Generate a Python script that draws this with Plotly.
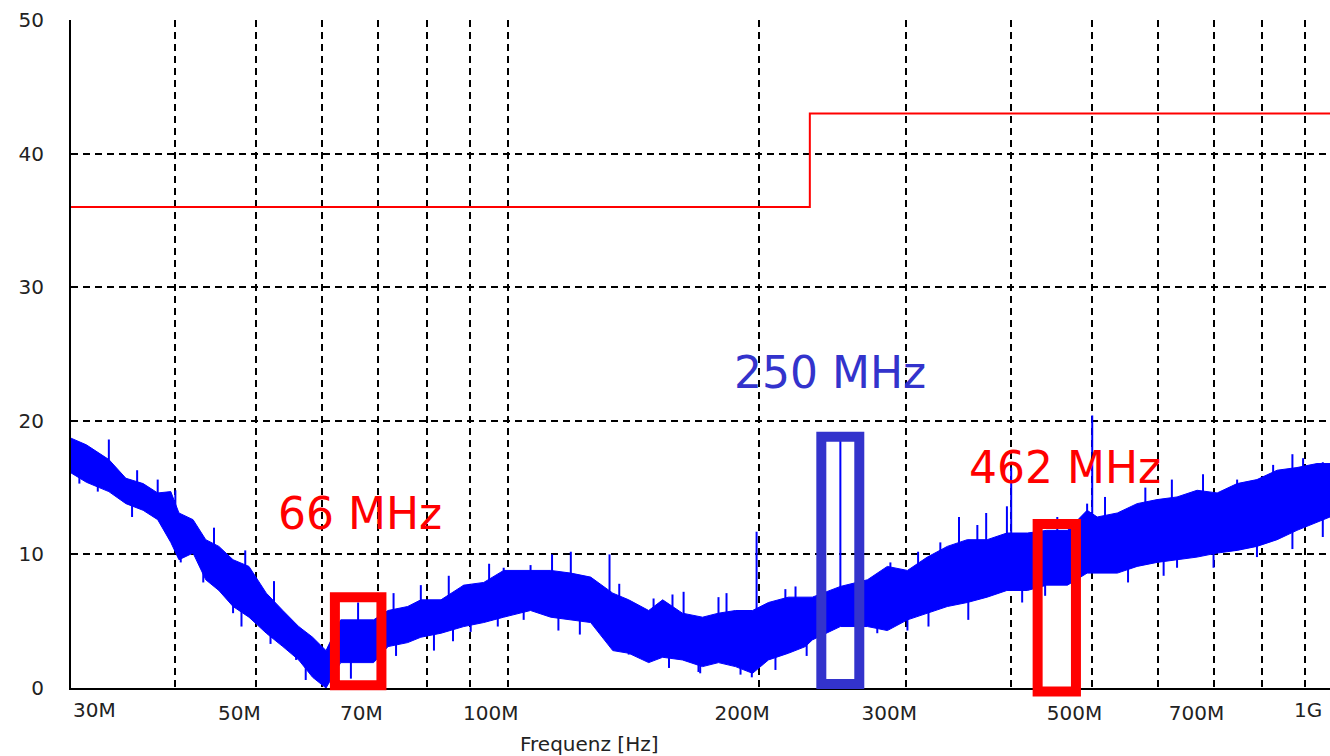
import math
import plotly.graph_objects as go

# ---------------- data ----------------
freq_mhz = [30, 31.3, 33.3, 34.9, 36.6, 38.1, 39.5, 40.4, 42.0, 43.5, 45.1, 46.9, 49.0,
            51.4, 53.8, 56.2, 58.4, 60.6, 63.1, 66.2, 69.1, 71.9, 75.9, 78.7, 83.2, 88.6,
            93.6, 98.9, 106.5, 112.6, 119, 125.7, 133.6, 139.6, 147.5, 153.3, 161.9, 171.1,
            178.8, 187.4, 196.4, 205.2, 216.8, 227.2, 231.6, 250.2, 269.6, 284.8, 301, 318,
            336, 355, 375, 396, 419, 442, 468, 494, 508, 537, 567, 599, 633, 669, 707, 747,
            789, 834, 881, 931, 965]
level_upper = [18.7, 18.2, 17.1, 15.7, 15.3, 14.6, 14.7, 13.1, 12.6, 11.1, 10.6, 9.6, 9.1,
               7.1, 5.8, 4.6, 3.8, 2.8, 5.1, 5.1, 5.1, 5.8, 6.1, 6.6, 6.6, 7.7,
               7.9, 8.8, 8.8, 8.8, 8.6, 8.3, 7.1, 6.6, 5.8, 6.6, 5.6, 5.3,
               5.6, 5.8, 5.8, 6.4, 6.8, 6.8, 6.8, 7.6, 8.1, 9.1, 8.8, 9.8,
               10.6, 11.1, 11.1, 11.6, 11.6, 11.8, 11.8, 13.3, 12.8, 13.1, 13.8, 14.1, 14.3, 14.8, 14.6, 15.3,
               15.6, 16.3, 16.5, 16.8, 16.8]
level_lower = [16.1, 15.4, 14.7, 13.8, 13.3, 12.6, 10.9, 9.6, 10.1, 8.1, 7.3, 6.1, 5.3,
               4.1, 3.1, 2.1, 0.8, 0.0, 1.9, 1.9, 1.9, 3.1, 3.4, 3.8, 4.1, 4.6,
               4.9, 5.3, 5.8, 5.3, 5.1, 4.9, 2.8, 2.6, 1.9, 2.3, 2.1, 1.6,
               1.9, 1.6, 1.1, 2.1, 2.6, 3.1, 3.6, 4.6, 4.6, 4.3, 5.1, 5.6,
               6.1, 6.4, 6.8, 7.3, 7.3, 7.7, 7.7, 8.6, 8.6, 8.6, 9.1, 9.4, 9.6, 9.8, 10.1, 10.3,
               10.6, 11.1, 11.8, 12.4, 12.8]

# individual spikes: frequency, foot level, tip level
spike_mhz = [33.3, 38.1, 40.0, 66.2, 78.7, 119, 132.4, 178.8, 198.6, 250.2, 347, 374, 396,
             400.7, 494, 501, 624,
             88.6, 98.9, 106.5, 149.5, 162.4, 221.1, 287.2, 329.6, 747, 825, 896, 946,
             64.9, 57.3, 170, 196, 356, 413,
             30.7, 32.3, 40.6, 43.2, 46.9, 55.8, 81.6, 90.3, 97.3, 104.5, 139.6, 169.2,
             209.2, 277, 301, 553, 633, 789, 946,
             136, 157.5, 182.8, 215, 310, 365, 455, 519, 580, 680, 870,
             36, 44.5, 48.5, 52.5, 73, 85, 95, 113,
             156, 190, 228, 319, 440, 610, 700, 870, 35.5, 48, 52, 73.5, 86, 115, 122]
spike_from = [15.5, 13.5, 12.0, 3.0, 5.0, 7.0, 6.5, 4.0, 5.0, 6.0, 9.0, 9.5, 10.0,
              10.0, 11.0, 11.5, 12.5,
              6.0, 7.0, 7.0, 4.0, 4.0, 5.0, 7.0, 8.5, 13.0, 14.0, 14.5, 14.5,
              3.0, 2.5, 3.0, 3.0, 8.0, 8.5,
              17.0, 16.5, 12.0, 10.0, 8.0, 4.0, 5.0, 6.0, 6.5, 7.0, 4.5, 3.5,
              4.0, 6.5, 7.0, 11.0, 11.5, 12.5, 13.5,
              5.0, 4.5, 4.0, 5.0, 7.0, 8.0, 9.5, 11.0, 11.5, 12.5, 14.0,
              14.0, 9.0, 7.0, 5.5, 4.0, 5.5, 6.5, 7.0,
              4.0, 3.5, 5.0, 7.0, 9.5, 11.5, 12.0, 13.5, 15.0, 7.0, 5.5, 4.5, 5.5, 6.5, 6.5]
spike_to = [18.6, 15.6, 14.8, 6.4, 7.7, 10.2, 10.0, 6.8, 11.7, 18.6, 12.8, 13.1, 13.6,
            16.5, 13.8, 20.4, 15.6,
            7.7, 9.0, 9.2, 6.7, 7.2, 7.6, 9.4, 10.9, 15.6, 16.7, 17.2, 16.9,
            0.7, 0.6, 1.1, 0.8, 5.1, 6.4,
            15.3, 14.7, 9.4, 7.9, 5.6, 2.1, 2.8, 4.2, 4.6, 5.1, 2.5, 1.2,
            1.35, 4.1, 4.3, 7.9, 9.0, 9.8, 11.3,
            7.8, 7.0, 7.1, 7.4, 10.2, 12.2, 12.8, 14.3, 15.0, 16.0, 17.5,
            16.3, 12.0, 10.3, 8.0, 7.1, 8.4, 9.3, 10.0,
            1.5, 1.0, 2.4, 4.6, 6.9, 8.4, 9.0, 10.4, 12.8, 4.6, 3.3, 2.4, 3.5, 4.3, 4.0]

# limit line
limit_mhz = [30, 230, 230, 1000]
limit_db = [36, 36, 43, 43]

# axis ticks
grid_mhz = [30, 40, 50, 60, 70, 80, 90, 100, 200, 300, 400, 500, 600, 700, 800, 900]
grid_text = ["", "", "50M", "", "70M", "", "", "100M", "200M", "300M", "", "500M", "", "700M", "", ""]
y_ticks = [0, 10, 20, 30, 40, 50]

# highlighted frequencies (boxes: f0, f1 in MHz, level0, level1 in dB)
box_f = [(62.1, 70.6), (237.4, 263.6), (431, 479)]
box_db = [(0.2, 6.8), (0.3, 18.8), (-0.26, 12.27)]
box_colors = ["#FF0000", "#3333CC", "#FF0000"]
labels = ["66 MHz", "250 MHz", "462 MHz"]
label_colors = ["#FF0000", "#3333CC", "#FF0000"]
label_pos = [(0.2295, 0.2605), (0.6029, 0.4716), (0.7895, 0.3308)]

Y_MAX = 50
X_RANGE = [math.log10(30), math.log10(965)]

fig = go.Figure()

blue = "#0000FF"
fig.add_trace(go.Scatter(x=freq_mhz, y=level_upper, mode="lines",
                         line=dict(color=blue, width=1), hoverinfo="skip", showlegend=False))
fig.add_trace(go.Scatter(x=freq_mhz, y=level_lower, mode="lines", fill="tonexty",
                         fillcolor=blue, line=dict(color=blue, width=1),
                         hoverinfo="skip", showlegend=False))

sx, sy = [], []
for f, a, b in zip(spike_mhz, spike_from, spike_to):
    sx += [f, f, None]
    sy += [a, b, None]
fig.add_trace(go.Scatter(x=sx, y=sy, mode="lines", line=dict(color=blue, width=2),
                         hoverinfo="skip", showlegend=False))

fig.add_trace(go.Scatter(x=limit_mhz, y=limit_db, mode="lines",
                         line=dict(color="#FF0000", width=2), hoverinfo="skip", showlegend=False))

for (f0, f1), (d0, d1), c in zip(box_f, box_db, box_colors):
    fig.add_shape(type="rect", xref="x", yref="paper", x0=f0, x1=f1,
                  y0=d0 / Y_MAX, y1=d1 / Y_MAX, line=dict(color=c, width=10),
                  fillcolor="rgba(0,0,0,0)", layer="above")

for t, c, (px, py) in zip(labels, label_colors, label_pos):
    fig.add_annotation(text=t, xref="paper", yref="paper", x=px, y=py, showarrow=False,
                       xanchor="center", yanchor="middle",
                       font=dict(family="DejaVu Sans", size=44, color=c))

tick_font = dict(family="DejaVu Sans", size=20, color="#222222")
fig.add_annotation(text="30M", xref="paper", yref="paper", x=0, y=-0.0322, xanchor="left",
                   yanchor="middle", xshift=0, showarrow=False, font=tick_font)
fig.add_annotation(text="1G", xref="paper", yref="paper", x=1, y=-0.0322, xanchor="right",
                   yanchor="middle", xshift=-6, showarrow=False, font=tick_font)
fig.add_annotation(text="Frequenz [Hz]", xref="paper", yref="paper", x=0.412, y=-0.0838,
                   xanchor="center", yanchor="middle", showarrow=False, font=tick_font)

fig.update_layout(
    width=1330, height=756,
    margin=dict(l=71, r=0, t=20, b=68),
    paper_bgcolor="white", plot_bgcolor="white",
    showlegend=False,
    xaxis=dict(type="log", range=X_RANGE, tickmode="array", tickvals=grid_mhz, ticktext=grid_text,
               showgrid=True, gridcolor="black", gridwidth=2, griddash="7px,5px",
               showline=True, linecolor="black", linewidth=2, ticks="", zeroline=False,
               tickfont=tick_font, ticklabelshift=-17, ticklabelstandoff=6),
    yaxis=dict(range=[0, Y_MAX], tickmode="array", tickvals=y_ticks,
               showgrid=True, gridcolor="black", gridwidth=2, griddash="7px,5px",
               showline=True, linecolor="black", linewidth=2, ticks="", zeroline=False,
               tickfont=tick_font, ticklabelstandoff=21),
)

fig.write_html("out.html",
               config={"displayModeBar": False},
               post_script="document.body.style.margin='0';"
                           "document.documentElement.style.overflow='hidden';"
                           "document.body.style.overflow='hidden';")
